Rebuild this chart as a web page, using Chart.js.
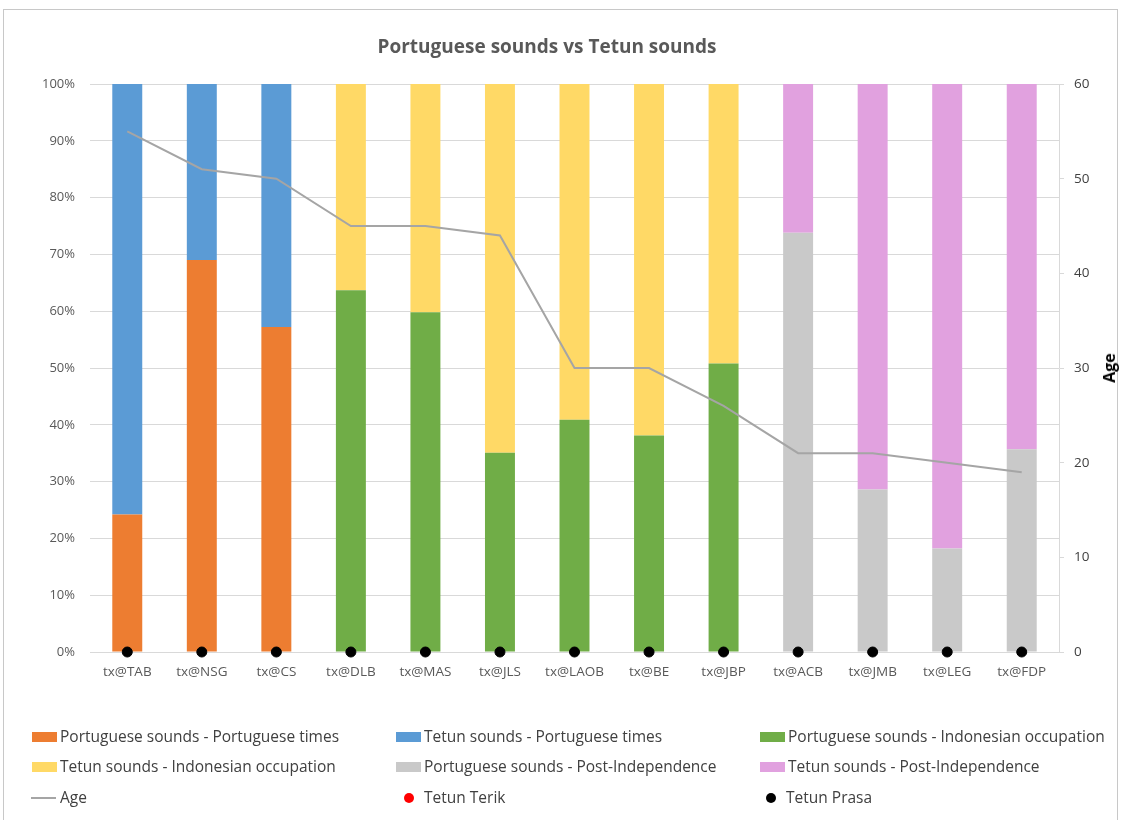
<!DOCTYPE html>
<html>
<head>
<meta charset="utf-8">
<script src="https://cdn.jsdelivr.net/npm/chart.js@4/dist/chart.umd.min.js"></script>
<style>
  html, body { margin: 0; padding: 0; background: #fff; }
  body { width: 1124px; height: 820px; position: relative; overflow: hidden; font-family: "Open Sans", sans-serif; }
  #frame { position: absolute; left: 3px; top: 9px; width: 1115px; height: 900px; border: 1px solid #c8c8c8; box-sizing: border-box; }
  #chart { position: absolute; left: 0; top: 0; }
  #title { position: absolute; left: 0; width: 1094px; top: 33px; text-align: center; font-weight: 700; font-size: 19px; color: #595959; }
  #ageTitle { position: absolute; left: 1109px; top: 368px; transform: translate(-50%, -50%) rotate(-90deg); font-weight: 700; font-size: 16px; color: #000; white-space: nowrap; }
  .lg { position: absolute; font-size: 15.5px; color: #404040; white-space: nowrap; line-height: 20px; }
  .sw { position: absolute; }
</style>
</head>
<body>
<div id="frame"></div>
<canvas id="chart" width="1124" height="820"></canvas>
<div id="title">Portuguese sounds vs Tetun sounds</div>
<div id="ageTitle">Age</div>
<div id="legend"></div>
<script>
// Speakers (categories along the x axis)
const categories = ['tx@TAB','tx@NSG','tx@CS','tx@DLB','tx@MAS','tx@JLS','tx@LAOB','tx@BE','tx@JBP','tx@ACB','tx@JMB','tx@LEG','tx@FDP'];

// Share of sounds (%) per period
const ptPortugueseTimes  = [24.2, 69.0, 57.2, null, null, null, null, null, null, null, null, null, null];
const tetPortugueseTimes = [75.8, 31.0, 42.8, null, null, null, null, null, null, null, null, null, null];
const ptIndonesian       = [null, null, null, 63.7, 59.8, 35.1, 40.9, 38.1, 50.8, null, null, null, null];
const tetIndonesian      = [null, null, null, 36.3, 40.2, 64.9, 59.1, 61.9, 49.2, null, null, null, null];
const ptPostIndep        = [null, null, null, null, null, null, null, null, null, 73.8, 28.6, 18.2, 35.7];
const tetPostIndep       = [null, null, null, null, null, null, null, null, null, 26.2, 71.4, 81.8, 64.3];

// Speaker age (right axis)
const age = [55, 51, 50, 45, 45, 44, 30, 30, 26, 21, 21, 20, 19];

// Variety markers, plotted on the baseline
const tetunTerik = [null, null, null, null, null, null, null, null, null, null, null, null, null];
const tetunPrasa = [0, 0, 0, 0, 0, 0, 0, 0, 0, 0, 0, 0, 0];

// Axis tick labels
const percentTicks = ['0%','10%','20%','30%','40%','50%','60%','70%','80%','90%','100%'];
const ageTicks = ['0','10','20','30','40','50','60'];

Chart.defaults.font.family = '"Open Sans", sans-serif';

function barSet(label, data, color) {
  return { type: 'bar', label, data, backgroundColor: color, borderWidth: 0,
           barPercentage: 0.402, categoryPercentage: 1, yAxisID: 'y', order: 3 };
}

const datasets = [
  barSet('Portuguese sounds - Portuguese times', ptPortugueseTimes, '#ED7D31'),
  barSet('Tetun sounds - Portuguese times', tetPortugueseTimes, '#5B9BD5'),
  barSet('Portuguese sounds - Indonesian occupation', ptIndonesian, '#70AD47'),
  barSet('Tetun sounds - Indonesian occupation', tetIndonesian, '#FFD966'),
  barSet('Portuguese sounds - Post-Independence', ptPostIndep, '#C9C9C9'),
  barSet('Tetun sounds - Post-Independence', tetPostIndep, '#E1A1DF'),
  { type: 'line', label: 'Age', data: age, yAxisID: 'y1', borderColor: '#A5A5A5', borderWidth: 2,
    pointRadius: 0, tension: 0, fill: false, order: 1 },
  { type: 'line', label: 'Tetun Terik', data: tetunTerik, yAxisID: 'y1', showLine: false,
    pointRadius: 5, pointBackgroundColor: '#FF0000', pointBorderColor: '#FF0000', borderColor: '#FF0000',
    clip: false, order: 0 },
  { type: 'line', label: 'Tetun Prasa', data: tetunPrasa, yAxisID: 'y1', showLine: false,
    pointRadius: 5, pointBackgroundColor: '#000', pointBorderColor: '#000', borderColor: '#000',
    clip: false, order: 0 }
];

new Chart(document.getElementById('chart'), {
  data: { labels: categories, datasets },
  options: {
    responsive: false,
    animation: false,
    layout: { padding: { top: 84, left: 0, right: 0, bottom: 0 } },
    plugins: { legend: { display: false }, title: { display: false }, tooltip: { enabled: false } },
    scales: {
      x: {
        stacked: true,
        grid: { display: false, drawTicks: false },
        border: { display: false },
        ticks: { color: '#595959', font: { size: 13.5 }, padding: 12, maxRotation: 0, autoSkip: false },
        afterFit: s => { s.height = 168; }
      },
      y: {
        stacked: true, min: 0, max: 100,
        grid: { color: '#D9D9D9', lineWidth: 1, drawTicks: false },
        border: { display: false },
        ticks: { stepSize: 10, color: '#595959', font: { size: 13 }, padding: 15,
                 callback: (v, i) => percentTicks[i] },
        afterFit: s => { s.width = 90; }
      },
      y1: {
        position: 'right', min: 0, max: 60,
        grid: { drawOnChartArea: false, color: '#D9D9D9', tickLength: 5 },
        border: { display: true, color: '#D9D9D9' },
        ticks: { stepSize: 10, color: '#404040', font: { size: 13.5 }, padding: 10,
                 callback: (v, i) => ageTicks[i] },
        afterFit: s => { s.width = 65; }
      }
    }
  }
});

// Legend laid out in three columns below the plot
const legendLayout = [
  { ds: 0, x: 32, y: 737, kind: 'box' }, { ds: 1, x: 396, y: 737, kind: 'box' }, { ds: 2, x: 760, y: 737, kind: 'box' },
  { ds: 3, x: 32, y: 767, kind: 'box' }, { ds: 4, x: 396, y: 767, kind: 'box' }, { ds: 5, x: 760, y: 767, kind: 'box' },
  { ds: 6, x: 31, y: 798, kind: 'line' }, { ds: 7, x: 404, y: 798, kind: 'dot' }, { ds: 8, x: 766, y: 798, kind: 'dot' }
];
const legend = document.getElementById('legend');
legendLayout.forEach(item => {
  const d = datasets[item.ds];
  const sw = document.createElement('div');
  sw.className = 'sw';
  let textX;
  if (item.kind === 'box') {
    Object.assign(sw.style, { left: item.x + 'px', top: (item.y - 5) + 'px', width: '25px', height: '10px', background: d.backgroundColor });
    textX = item.x + 28;
  } else if (item.kind === 'line') {
    Object.assign(sw.style, { left: item.x + 'px', top: (item.y - 1) + 'px', width: '25px', height: '2px', background: d.borderColor });
    textX = item.x + 29;
  } else {
    Object.assign(sw.style, { left: item.x + 'px', top: (item.y - 5) + 'px', width: '10px', height: '10px', borderRadius: '50%', background: d.pointBackgroundColor });
    textX = item.x + 20;
  }
  legend.appendChild(sw);
  const t = document.createElement('div');
  t.className = 'lg';
  t.textContent = d.label;
  Object.assign(t.style, { left: textX + 'px', top: (item.y - 11) + 'px' });
  legend.appendChild(t);
});
</script>
</body>
</html>
